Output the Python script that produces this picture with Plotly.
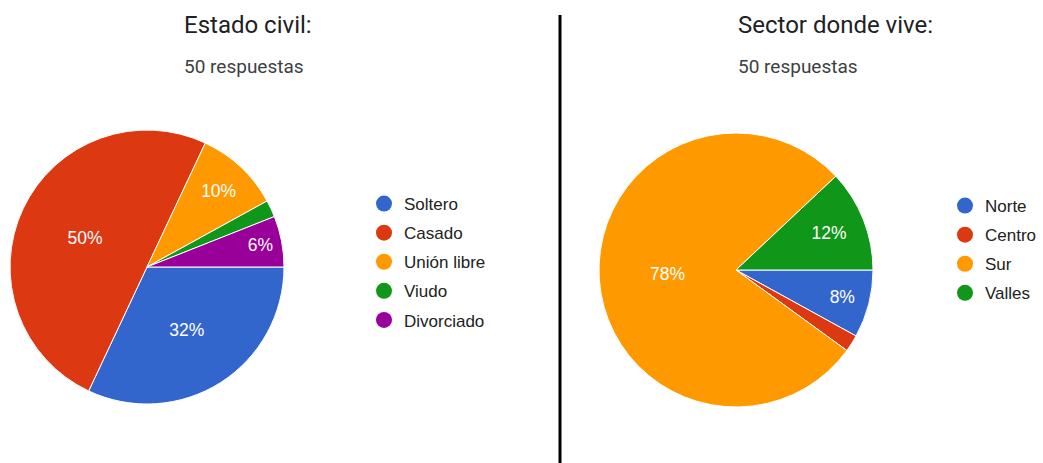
import plotly.graph_objects as go

W, H = 1043, 463

# Data
civil_labels = ["Soltero", "Casado", "Unión libre", "Viudo", "Divorciado"]
civil_values = [16, 25, 5, 1, 3]
civil_colors = ["#3366CC", "#DC3912", "#FF9900", "#109618", "#990099"]

sector_labels = ["Norte", "Centro", "Sur", "Valles"]
sector_values = [4, 1, 39, 6]
sector_colors = ["#3366CC", "#DC3912", "#FF9900", "#109618"]

title_left = "Estado civil:"
title_right = "Sector donde vive:"
subtitle = "50 respuestas"


def pct_text(values, min_pct=5):
    total = sum(values)
    out = []
    for v in values:
        p = v / total * 100
        out.append(f"{p:.0f}%" if p >= min_pct else "")
    return out


def px(x):
    return x / W


def py(y):
    return 1 - y / H


fig = go.Figure()

label_font = dict(family="Liberation Sans, Arial", size=17.5, color="white")

fig.add_trace(go.Pie(
    labels=civil_labels, values=civil_values, sort=False, direction="clockwise",
    rotation=90, marker=dict(colors=civil_colors, line=dict(color="white", width=1)),
    text=pct_text(civil_values), textinfo="text", textposition="inside",
    insidetextorientation="horizontal", insidetextfont=label_font,
    domain=dict(x=[px(10), px(284)], y=[py(404), py(130)]),
    showlegend=False, hoverinfo="label+percent",
))

fig.add_trace(go.Pie(
    labels=sector_labels, values=sector_values, sort=False, direction="clockwise",
    rotation=90, marker=dict(colors=sector_colors, line=dict(color="white", width=1)),
    text=pct_text(sector_values), textinfo="text", textposition="inside",
    insidetextorientation="horizontal", insidetextfont=label_font,
    domain=dict(x=[px(599), px(873)], y=[py(407), py(133)]),
    showlegend=False, hoverinfo="label+percent",
))

# Legend entries with circular markers
for lab, col in zip(civil_labels, civil_colors):
    fig.add_trace(go.Scatter(
        x=[None], y=[None], mode="markers", name=lab,
        marker=dict(color=col, size=17, symbol="circle"),
        legend="legend", legendgroup="L" + lab,
    ))
for lab, col in zip(sector_labels, sector_colors):
    fig.add_trace(go.Scatter(
        x=[None], y=[None], mode="markers", name=lab,
        marker=dict(color=col, size=17, symbol="circle"),
        legend="legend2", legendgroup="R" + lab,
    ))

legend_font = dict(family="Liberation Sans, Arial", size=17, color="#222222")

fig.update_layout(
    width=W, height=H,
    margin=dict(l=0, r=0, t=0, b=0),
    paper_bgcolor="white", plot_bgcolor="white",
    xaxis=dict(visible=False), yaxis=dict(visible=False),
    legend=dict(x=px(364), y=py(186), xanchor="left", yanchor="top",
                font=legend_font, tracegroupgap=4, bgcolor="rgba(0,0,0,0)",
                itemclick=False),
    legend2=dict(x=px(945), y=py(188), xanchor="left", yanchor="top",
                 font=legend_font, tracegroupgap=4, bgcolor="rgba(0,0,0,0)",
                 itemclick=False),
    shapes=[dict(type="line", xref="paper", yref="paper",
                 x0=px(560), x1=px(560), y0=0, y1=py(15),
                 line=dict(color="black", width=3))],
    annotations=[
        dict(text=title_left, x=px(182), y=py(25), xref="paper", yref="paper",
             xanchor="left", yanchor="middle", showarrow=False,
             font=dict(family="Roboto", size=24, color="#202124")),
        dict(text=subtitle, x=px(182), y=py(67), xref="paper", yref="paper",
             xanchor="left", yanchor="middle", showarrow=False,
             font=dict(family="Roboto", size=19, color="#3c4043")),
        dict(text=title_right, x=px(736), y=py(25), xref="paper", yref="paper",
             xanchor="left", yanchor="middle", showarrow=False,
             font=dict(family="Roboto", size=24, color="#202124")),
        dict(text=subtitle, x=px(736), y=py(67), xref="paper", yref="paper",
             xanchor="left", yanchor="middle", showarrow=False,
             font=dict(family="Roboto", size=19, color="#3c4043")),
    ],
)

fig.write_html("out.html")
